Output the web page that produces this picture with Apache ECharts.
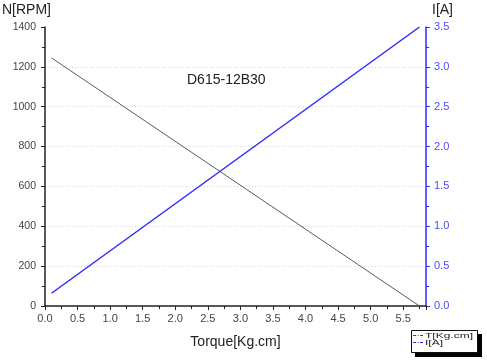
<!DOCTYPE html>
<html><head><meta charset="utf-8">
<script src="https://cdn.jsdelivr.net/npm/echarts@6/dist/echarts.min.js"></script>
<style>html,body{margin:0;padding:0;background:#fff}#c{width:487px;height:364px}</style>
</head><body><div id="c"></div>
<script>
const torque = [0.1, 5.75];
const speed = [1245, 0];
const current = [0.16, 3.5];
const xTicks = ['0.0','0.5','1.0','1.5','2.0','2.5','3.0','3.5','4.0','4.5','5.0','5.5'];
const leftTicks = [0,200,400,600,800,1000,1200,1400];
const rightTicks = ['0.0','0.5','1.0','1.5','2.0','2.5','3.0','3.5'];
const modelName = 'D615-12B30';
const legendNames = ['T[Kg.cm]', 'I[A]'];

const grayC = '#5a5a5a', blueC = '#2a2aff';
const chart = echarts.init(document.getElementById('c'), null, {renderer:'canvas'});
const font = 'Liberation Sans, Arial, sans-serif';
const titleStyle = {fontSize:14, fontWeight:'normal', color:'#222', fontFamily:font};
chart.setOption({
  animation:false,
  textStyle:{fontFamily:font},
  title:[
    {text:'N[RPM]', left:2, top:3, padding:0, textStyle:titleStyle},
    {text:'I[A]', left:432, top:3, padding:0, textStyle:titleStyle},
    {text:modelName, left:187, top:73, padding:0, textStyle:titleStyle}
  ],
  graphic:[
    {type:'rect', shape:{x:415, y:334, width:67, height:23}, style:{fill:'#000'}, silent:true},
    {type:'rect', shape:{x:411.5, y:330.5, width:66, height:22}, style:{fill:'#fff', stroke:'#111', lineWidth:1}, silent:true},
    {type:'line', shape:{x1:413, y1:335.5, x2:424, y2:335.5}, style:{stroke:'#444', lineWidth:1, lineDash:[3,1.5,1,1.5]}, silent:true},
    {type:'line', shape:{x1:413, y1:342.5, x2:424, y2:342.5}, style:{stroke:blueC, lineWidth:1, lineDash:[3,1.5,1,1.5]}, silent:true},
    {type:'text', x:425, y:335.5, scaleX:1.5, style:{text:legendNames[0], fontSize:8, fill:'#222', font:'8px Liberation Sans', verticalAlign:'middle'}, silent:true},
    {type:'text', x:425, y:342.5, scaleX:1.5, style:{text:legendNames[1], fontSize:8, fill:'#222', font:'8px Liberation Sans', verticalAlign:'middle'}, silent:true}
  ],
  grid:{left:45, right:61, top:27, bottom:58, containLabel:false},
  xAxis:{
    type:'value', min:0, max:5.85, interval:0.5,
    name:'Torque[Kg.cm]', nameLocation:'middle', nameGap:29,
    nameTextStyle:{fontSize:14, color:'#222', fontFamily:font},
    axisLine:{onZero:false, lineStyle:{color:'#222', width:1.5}},
    axisTick:{show:true, length:4, lineStyle:{color:'#222'}},
    minorTick:{show:true, splitNumber:2, length:3, lineStyle:{color:'#222'}},
    axisLabel:{fontSize:11, color:'#444', margin:7,
      formatter:(v)=>{ const s=v.toFixed(1); return xTicks.includes(s)&&Math.abs(v*2-Math.round(v*2))<1e-6 ? s : ''; },
      showMaxLabel:false},
    splitLine:{show:false}
  },
  yAxis:[
    {type:'value', min:0, max:1400, interval:200, position:'left',
     axisLine:{show:true, lineStyle:{color:'#222', width:1.5}},
     axisTick:{show:true, length:4, lineStyle:{color:'#222'}},
     minorTick:{show:true, splitNumber:2, length:3, lineStyle:{color:'#222'}},
     axisLabel:{fontSize:10.5, color:'#444', margin:9, formatter:(v)=>leftTicks.includes(v)?String(v):''},
     splitLine:{show:true, showMaxLine:false, showMinLine:false, lineStyle:{color:'#d4d4d4', type:[1,2], width:1}}
    },
    {type:'value', min:0, max:3.5, interval:0.5, position:'right',
     axisLine:{show:true, lineStyle:{color:blueC, width:1.5}},
     axisTick:{show:true, length:4, lineStyle:{color:blueC}},
     minorTick:{show:true, splitNumber:2, length:3, lineStyle:{color:blueC}},
     axisLabel:{fontSize:11, color:'#4a4aff', margin:8, formatter:(v)=>{const s=v.toFixed(1); return rightTicks.includes(s)?s:'';}},
     splitLine:{show:false}
    }
  ],
  series:[
    {name:legendNames[0], type:'line', yAxisIndex:0, symbol:'none',
     lineStyle:{color:grayC, width:1}, itemStyle:{color:grayC},
     data:torque.map((x,i)=>[x,speed[i]])},
    {name:legendNames[1], type:'line', yAxisIndex:1, symbol:'none',
     lineStyle:{color:blueC, width:1.5}, itemStyle:{color:blueC},
     data:torque.map((x,i)=>[x,current[i]])}
  ]
});
</script></body></html>
